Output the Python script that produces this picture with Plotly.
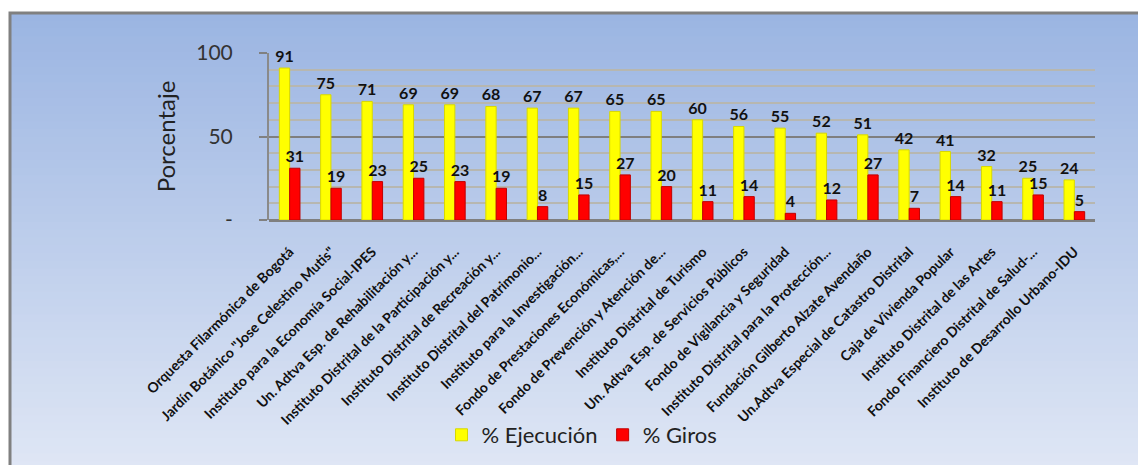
import plotly.graph_objects as go

categories = [
    "Orquesta Filarmónica de Bogotá",
    "Jardín Botánico \"Jose Celestino Mutis\"",
    "Instituto para la Economía Social-IPES",
    "Un. Adtva Esp. de Rehabilitación y...",
    "Instituto Distrital de la Participación y...",
    "Instituto Distrital de Recreación y...",
    "Instituto Distrital del Patrimonio...",
    "Instituto para la Investigación...",
    "Fondo de Prestaciones Económicas,...",
    "Fondo de Prevención y Atención de...",
    "Instituto Distrital de Turismo",
    "Un. Adtva Esp. de Servicios Públicos",
    "Fondo de Vigilancia y Seguridad",
    "Instituto Distrital para la Protección...",
    "Fundación Gilberto Alzate Avendaño",
    "Un.Adtva Especial de Catastro Distrital",
    "Caja de Vivienda Popular",
    "Instituto Distrital de las Artes",
    "Fondo Financiero Distrital de Salud-...",
    "Instituto de Desarrollo Urbano-IDU",
]
ejecucion = [91, 75, 71, 69, 69, 68, 67, 67, 65, 65, 60, 56, 55, 52, 51, 42, 41, 32, 25, 24]
giros = [31, 19, 23, 25, 23, 19, 8, 15, 27, 20, 11, 14, 4, 12, 27, 7, 14, 11, 15, 5]
y_tickvals = [0, 50, 100]
y_ticktext = ["-", "50", "100"]

W, H = 1146, 465
OFF = 8  # page body margin
ML, MR, MT, MB = 261, 59, 45, 253
PW, PH = W - ML - MR, H - MT - MB

def px_x(p):
    return (p - OFF - ML) / PW

def px_y(p):
    return (H - MB - (p - OFF)) / PH

FONT = "Lato, 'Open Sans', sans-serif"

fig = go.Figure()
fig.add_trace(go.Bar(
    name="% Ejecución", x=categories, y=ejecucion,
    marker=dict(color="#ffff00", line=dict(color="#d8d800", width=1)),
    text=ejecucion, textposition="outside", cliponaxis=False, constraintext="none",
    textfont=dict(family=FONT, size=16, color="#111111", weight="bold"),
))
fig.add_trace(go.Bar(
    name="% Giros", x=categories, y=giros,
    marker=dict(color="#ff0000", line=dict(color="#c00000", width=1)),
    text=giros, textposition="outside", cliponaxis=False, constraintext="none",
    textfont=dict(family=FONT, size=16, color="#111111", weight="bold"),
))

# gradient background made of horizontal bands
shapes = []
top, bot = 13, H + 12
n = 60
c0 = (155, 181, 226)
c1 = (224, 231, 245)
for i in range(n):
    t = i / (n - 1)
    col = tuple(round(c0[k] + (c1[k] - c0[k]) * t) for k in range(3))
    y0 = top + (bot - top) * i / n
    y1 = top + (bot - top) * (i + 1) / n + 1
    shapes.append(dict(type="rect", xref="paper", yref="paper", layer="below",
                       x0=px_x(10), x1=px_x(W + 15), y0=px_y(y0), y1=px_y(y1),
                       fillcolor="rgb(%d,%d,%d)" % col, line=dict(width=0)))
shapes.append(dict(type="rect", xref="paper", yref="paper", layer="below",
                   x0=px_x(10), x1=px_x(W + 20), y0=px_y(13), y1=px_y(H + 20),
                   fillcolor="rgba(0,0,0,0)", line=dict(color="#808080", width=3)))

fig.update_layout(
    width=W, height=H,
    margin=dict(l=ML, r=MR, t=MT, b=MB, autoexpand=False),
    paper_bgcolor="white", plot_bgcolor="rgba(0,0,0,0)",
    barmode="group", bargap=0.5, bargroupgap=0.0,
    uniformtext=dict(mode=False),
    shapes=shapes,
    showlegend=True,
    legend=dict(orientation="h", xref="container", yref="container",
                x=(582 - OFF) / W, xanchor="center", y=1 - (435 - OFF) / H, yanchor="middle",
                font=dict(family=FONT, size=22, color="#222222"), bgcolor="rgba(0,0,0,0)",
                itemwidth=30, traceorder="normal"),
    font=dict(family=FONT),
)
fig.update_yaxes(
    automargin=False,
    range=[0, 100], tickmode="array", tickvals=y_tickvals, ticktext=y_ticktext,
    tickfont=dict(family=FONT, size=21, color="#333333"),
    showgrid=True, gridcolor="#7f7f7f", gridwidth=2,
    minor=dict(tickmode="linear", tick0=0, dtick=10, showgrid=True, gridcolor="#b7b7b0", gridwidth=1.5),
    ticks="outside", ticklen=8, tickcolor="#808080", tickwidth=2,
    ticklabelstandoff=22,
    showline=True, linecolor="#8a8a8a", linewidth=2,
    zeroline=True, zerolinecolor="#7f7f7f", zerolinewidth=3,
    title=dict(text="Porcentaje", font=dict(family=FONT, size=24, color="#222222"), standoff=14),
)
fig.update_xaxes(
    automargin=False,
    tickangle=-45,
    tickfont=dict(family=FONT, size=14, color="#111111", weight="bold"),
    ticklabelstandoff=20,
    showgrid=False, showline=False, ticks="",
)

fig.write_html("out.html")
